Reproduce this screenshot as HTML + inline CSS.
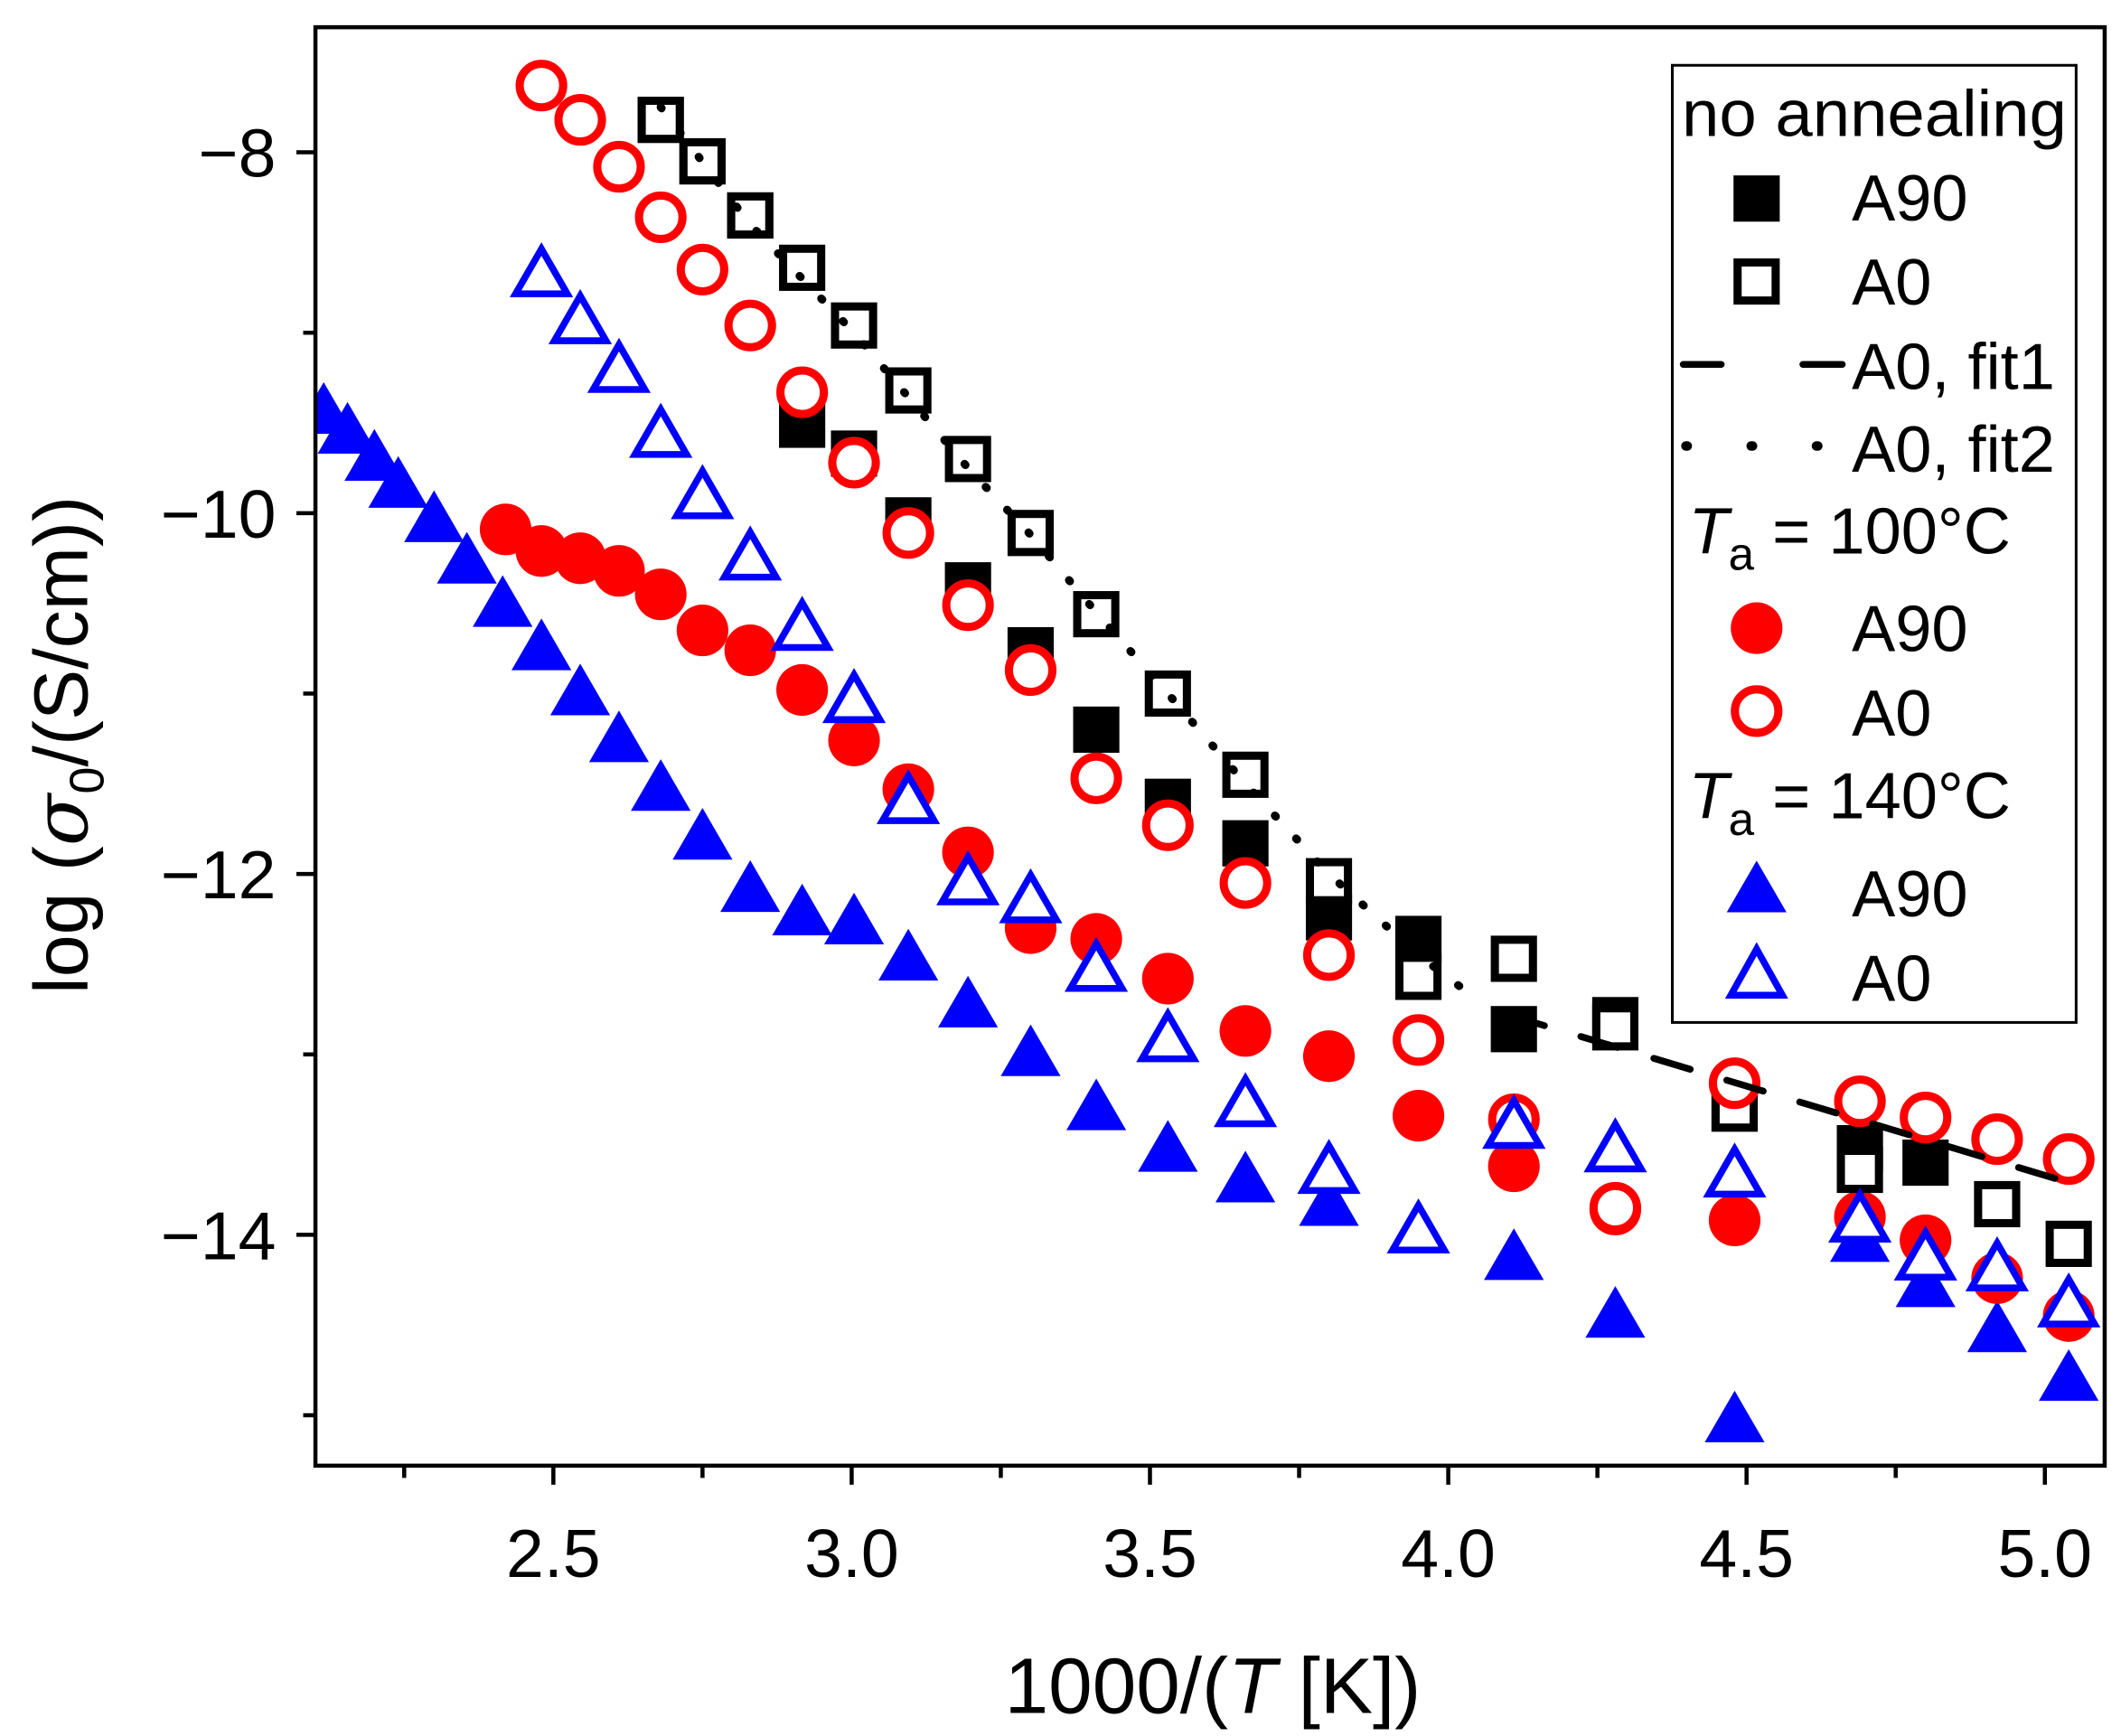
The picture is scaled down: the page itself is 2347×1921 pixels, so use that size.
<!DOCTYPE html>
<html><head><meta charset="utf-8"><style>html,body{margin:0;padding:0;background:#fff}svg{display:block}text{font-family:"Liberation Sans",Arial,sans-serif}</style></head>
<body>
<svg id="chart" width="2347" height="1921" viewBox="0 0 1560 1276.8" xmlns="http://www.w3.org/2000/svg">
<rect x="0" y="0" width="1560" height="1277" fill="#fff"/>
<g id="plot"></g>
<g id="axes"></g>
<g id="legend"></g>
</svg>
<script>
const xTicks = [2.5, 3.0, 3.5, 4.0, 4.5, 5.0];
const xTickLabels = ["2.5", "3.0", "3.5", "4.0", "4.5", "5.0"];
const yTicks = [-8, -10, -12, -14];
const yTickLabels = ["\u22128", "\u221210", "\u221212", "\u221214"];
const sqFilledX = [2.68,2.75,2.83,2.917,3.004,3.095,3.195,3.30,3.41,3.53,3.66,3.80,3.95,4.11,4.28,4.48,4.69,4.80];
const sqFilledY = [-7.82,-8.05,-8.35,-9.51,-9.67,-10.04,-10.40,-10.76,-11.20,-11.60,-11.83,-12.24,-12.36,-12.86,-12.81,-13.30,-13.52,-13.60];
const sqOpenX = [2.68,2.75,2.83,2.917,3.004,3.095,3.195,3.30,3.41,3.53,3.66,3.80,3.95,4.11,4.28,4.48,4.69,4.92,5.04];
const sqOpenY = [-7.82,-8.05,-8.35,-8.64,-8.96,-9.32,-9.70,-10.11,-10.56,-11.0,-11.45,-12.04,-12.57,-12.47,-12.85,-13.30,-13.64,-13.83,-14.05];
const fit1X = [4.1, 5.05];
const fit1Y = [-12.78, -13.72];
const fit2X = [2.68,2.83,3.004,3.195,3.30,3.41,3.53,3.66,3.80,3.95,4.05];
const fit2Y = [-7.75,-8.40,-9.0,-9.75,-10.12,-10.55,-11.0,-11.5,-12.0,-12.45,-12.7];
const rcFilledX = [2.42,2.48,2.545,2.61,2.68,2.75,2.83,2.917,3.004,3.095,3.195,3.30,3.41,3.53,3.66,3.80,3.95,4.11,4.28,4.48,4.69,4.80,4.92,5.04];
const rcFilledY = [-10.09,-10.21,-10.25,-10.32,-10.45,-10.65,-10.76,-10.98,-11.26,-11.53,-11.88,-12.30,-12.36,-12.58,-12.87,-13.01,-13.34,-13.62,-13.86,-13.92,-13.90,-14.03,-14.24,-14.45];
const rcOpenX = [2.48,2.545,2.61,2.68,2.75,2.83,2.917,3.004,3.095,3.195,3.30,3.41,3.53,3.66,3.80,3.95,4.11,4.28,4.48,4.69,4.80,4.92,5.04];
const rcOpenY = [-7.63,-7.82,-8.08,-8.36,-8.65,-8.96,-9.33,-9.72,-10.11,-10.51,-10.87,-11.47,-11.73,-12.05,-12.45,-12.92,-13.36,-13.85,-13.16,-13.26,-13.35,-13.47,-13.58];
const btFilledX = [2.115,2.155,2.20,2.24,2.30,2.355,2.415,2.48,2.545,2.61,2.68,2.75,2.83,2.917,3.004,3.095,3.195,3.30,3.41,3.53,3.66,3.80,4.11,4.28,4.48,4.69,4.80,4.92,5.04];
const btFilledY = [-9.44,-9.55,-9.70,-9.85,-10.04,-10.27,-10.51,-10.75,-11.0,-11.26,-11.53,-11.80,-12.09,-12.22,-12.27,-12.47,-12.73,-13.0,-13.30,-13.53,-13.70,-13.83,-14.13,-14.45,-15.03,-14.03,-14.28,-14.53,-14.80];
const btOpenX = [2.48,2.545,2.61,2.68,2.75,2.83,2.917,3.004,3.095,3.195,3.30,3.41,3.53,3.66,3.80,3.95,4.11,4.28,4.48,4.69,4.80,4.92,5.04];
const btOpenY = [-8.68,-8.94,-9.21,-9.57,-9.91,-10.25,-10.64,-11.04,-11.60,-12.05,-12.15,-12.53,-12.92,-13.28,-13.65,-13.98,-13.40,-13.53,-13.67,-13.92,-14.13,-14.19,-14.39];

const NS = "http://www.w3.org/2000/svg";
const L = 232, R = 1548, T = 20, B = 1078;
function sx(v){ return 407 + (v - 2.5) * 438.8; }
function sy(v){ return 112 + (-8 - v) * 132.7; }
function mk(tag, attrs, parent){ const e = document.createElementNS(NS, tag); for (const k in attrs) e.setAttribute(k, attrs[k]); parent.appendChild(e); return e; }
const plot = document.getElementById('plot'), axes = document.getElementById('axes');

function square(g, x, y, filled){
  const s = filled ? 34 : 28;
  return mk('rect', {x: x - s/2, y: y - s/2, width: s, height: s, fill: filled ? '#000' : '#fff', stroke: filled ? 'none' : '#000', 'stroke-width': filled ? 0 : 6}, g);
}
function circle(g, x, y, filled){
  return mk('circle', {cx: x, cy: y, r: filled ? 19 : 16, fill: filled ? '#f00' : '#fff', stroke: filled ? 'none' : '#f00', 'stroke-width': filled ? 0 : 6}, g);
}
function tri(g, x, y, filled){
  const w = filled ? 22 : 19, h = filled ? 38 : 33;
  return mk('polygon', {points: `${x},${y - h*0.58} ${x + w},${y + h*0.42} ${x - w},${y + h*0.42}`, fill: filled ? '#00f' : '#fff', stroke: filled ? 'none' : '#00f', 'stroke-width': filled ? 0 : 5}, g);
}
function series(name, xs, ys, fn, filled){
  const g = mk('g', {}, plot);
  
  
  for (let i = 0; i < xs.length; i++){
    const e = fn(g, sx(xs[i]), sy(ys[i]), filled);
    
    
  }
}
const clip = mk('clipPath', {id: 'pc'}, document.getElementById('chart'));
mk('rect', {x: L, y: T, width: R - L, height: B - T}, clip);
plot.setAttribute('clip-path', 'url(#pc)');

series('blue-a90-140c', btFilledX, btFilledY, tri, true);
series('red-a90-100c', rcFilledX, rcFilledY, circle, true);
series('black-a90-none', sqFilledX, sqFilledY, square, true);
series('black-a0-none', sqOpenX, sqOpenY, square, false);
series('red-a0-100c', rcOpenX, rcOpenY, circle, false);
series('blue-a0-140c', btOpenX, btOpenY, tri, false);

function line(name, xs, ys, dash, w){
  let d = '';
  for (let i = 0; i < xs.length; i++) d += (i ? 'L' : 'M') + sx(xs[i]) + ',' + sy(ys[i]);
  const p = mk('path', {d: d, fill: 'none', stroke: '#000', 'stroke-width': w, 'stroke-dasharray': dash, 'stroke-linecap': 'round'}, plot);
  
  
}
line('fit1-line', fit1X, fit1Y, '28 28', 5);
line('fit2-line', fit2X, fit2Y, '1 22', 6);

const frame = mk('rect', {x: L, y: T, width: R - L, height: B - T, fill: 'none', stroke: '#000', 'stroke-width': 3}, axes);


for (let v = 2.25; v <= 5.0001; v += 0.25){
  const major = Math.abs(v*2 - Math.round(v*2)) < 1e-6;
  mk('line', {x1: sx(v), x2: sx(v), y1: B, y2: B + (major ? 14 : 9), stroke: '#000', 'stroke-width': 3}, axes);
}
for (let i = 0; i < xTicks.length; i++){
  const t = mk('text', {x: sx(xTicks[i]), y: 1160, 'font-size': 50, 'text-anchor': 'middle'}, axes);
  t.textContent = xTickLabels[i];
  
  
}
for (let v = -7; v >= -15; v -= 1){
  const major = v % 2 === 0;
  mk('line', {x1: L, x2: L - (major ? 14 : 9), y1: sy(v), y2: sy(v), stroke: '#000', 'stroke-width': 3}, axes);
}
for (let i = 0; i < yTicks.length; i++){
  const t = mk('text', {x: 203, y: sy(yTicks[i]) + 18, 'font-size': 50, 'text-anchor': 'end'}, axes);
  t.textContent = yTickLabels[i];
  
  
}
</script>
<script>
(function(){
const axes = document.getElementById('axes');
const legend = document.getElementById('legend');
axes.insertAdjacentHTML('beforeend',
 '<text x="892" y="1260" font-size="58" text-anchor="middle">1000/(<tspan font-style="italic">T</tspan> [K])</text>' +
 '<text transform="translate(64,548) rotate(-90)" font-size="56" text-anchor="middle">log (<tspan font-family="DejaVu Serif, serif" font-style="italic">σ</tspan><tspan font-size="36" dy="12">0</tspan><tspan dy="-12">/(S/cm))</tspan></text>');
legend.insertAdjacentHTML('beforeend',
 '<rect x="1230" y="48" width="297" height="704" fill="#fff" stroke="#000" stroke-width="2"/>' +
 '<text x="1237" y="100" font-size="48" textLength="283" lengthAdjust="spacingAndGlyphs">no annealing</text>' +
 '<rect x="1275" y="129" width="34" height="34" fill="#000"/>' +
 '<text x="1362" y="162" font-size="48">A90</text>' +
 '<rect x="1278" y="193" width="28" height="28" fill="#fff" stroke="#000" stroke-width="6"/>' +
 '<text x="1362" y="224" font-size="48">A0</text>' +
 '<line x1="1238" y1="268" x2="1355" y2="268" stroke="#000" stroke-width="5" stroke-dasharray="28 60" stroke-linecap="round"/>' +
 '<line x1="1327" y1="268" x2="1355" y2="268" stroke="#000" stroke-width="5" stroke-linecap="round"/>' +
 '<text x="1362" y="286" font-size="48">A0, fit1</text>' +
 '<line x1="1240" y1="328" x2="1340" y2="328" stroke="#000" stroke-width="7" stroke-dasharray="1 47" stroke-linecap="round"/>' +
 '<text x="1362" y="347" font-size="48">A0, fit2</text>' +
 '<text x="1242" y="407" font-size="48"><tspan font-style="italic">T</tspan><tspan font-size="34" dy="12">a</tspan><tspan dy="-12"> = 100°C</tspan></text>' +
 '<circle cx="1292" cy="462" r="19" fill="#f00"/>' +
 '<text x="1362" y="479" font-size="48">A90</text>' +
 '<circle cx="1292" cy="523" r="16" fill="#fff" stroke="#f00" stroke-width="6"/>' +
 '<text x="1362" y="541" font-size="48">A0</text>' +
 '<text x="1242" y="602" font-size="48"><tspan font-style="italic">T</tspan><tspan font-size="34" dy="12">a</tspan><tspan dy="-12"> = 140°C</tspan></text>' +
 '<polygon points="1292,633 1314,671 1270,671" fill="#00f"/>' +
 '<text x="1362" y="674" font-size="48">A90</text>' +
 '<polygon points="1292,698 1311,732 1273,732" fill="#fff" stroke="#00f" stroke-width="5"/>' +
 '<text x="1362" y="736" font-size="48">A0</text>');
})();
</script>
</body></html>
